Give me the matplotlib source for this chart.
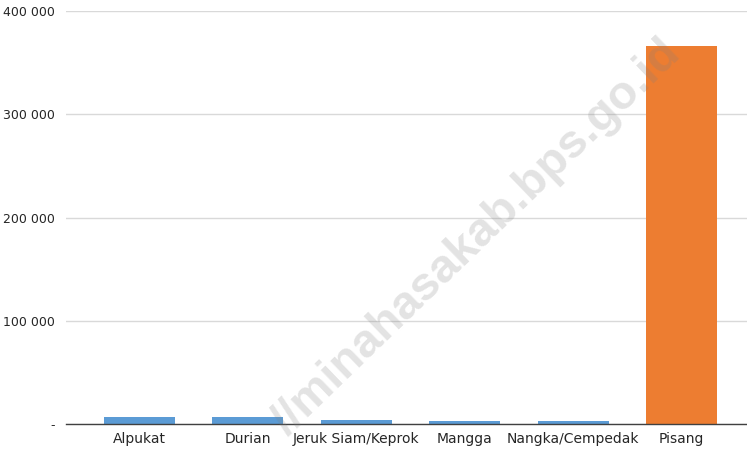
import matplotlib
matplotlib.use("Agg")
import matplotlib.pyplot as plt

# data
categories = ["Alpukat", "Durian", "Jeruk Siam/Keprok", "Mangga", "Nangka/Cempedak", "Pisang"]
production = [7100, 7200, 4000, 2700, 2700, 366000]
bar_colors = ["#5B9BD5"] * 5 + ["#ED7D31"]
y_ticks = [0, 100000, 200000, 300000, 400000]
y_tick_labels = ["-", "100 000", "200 000", "300 000", "400 000"]

fig = plt.figure(figsize=(7.47, 4.51), dpi=100)
ax = fig.add_axes([66 / 747, 1 - 424 / 451, 681 / 747, 413 / 451])

x = list(range(len(categories)))
ax.bar(x, production, width=0.655, color=bar_colors, zorder=2)

ax.set_ylim(0, 400000)
ax.set_xlim(-0.678, 5.604)
ax.set_yticks(y_ticks)
ax.set_yticklabels(y_tick_labels, fontsize=9, color="#262626")
ax.set_xticks(x)
ax.set_xticklabels(categories, fontsize=10, color="#262626")
ax.tick_params(axis="both", length=0)
ax.tick_params(axis="y", pad=8)
ax.tick_params(axis="x", pad=6)

ax.grid(axis="y", color="#d9d9d9", linewidth=1, zorder=0)
for side in ["left", "right", "top"]:
    ax.spines[side].set_visible(False)
ax.spines["bottom"].set_color("#404040")
ax.spines["bottom"].set_linewidth(1)
ax.spines["bottom"].set_zorder(3)

# watermark
fig.text(477 / 747, 1 - 238 / 451, "//minahasakab.bps.go.id", fontsize=34,
         family="Liberation Sans", fontweight="bold", color="gray", alpha=0.22,
         rotation=44, ha="center", va="center", zorder=10)

fig.savefig("out.png", dpi=100)
